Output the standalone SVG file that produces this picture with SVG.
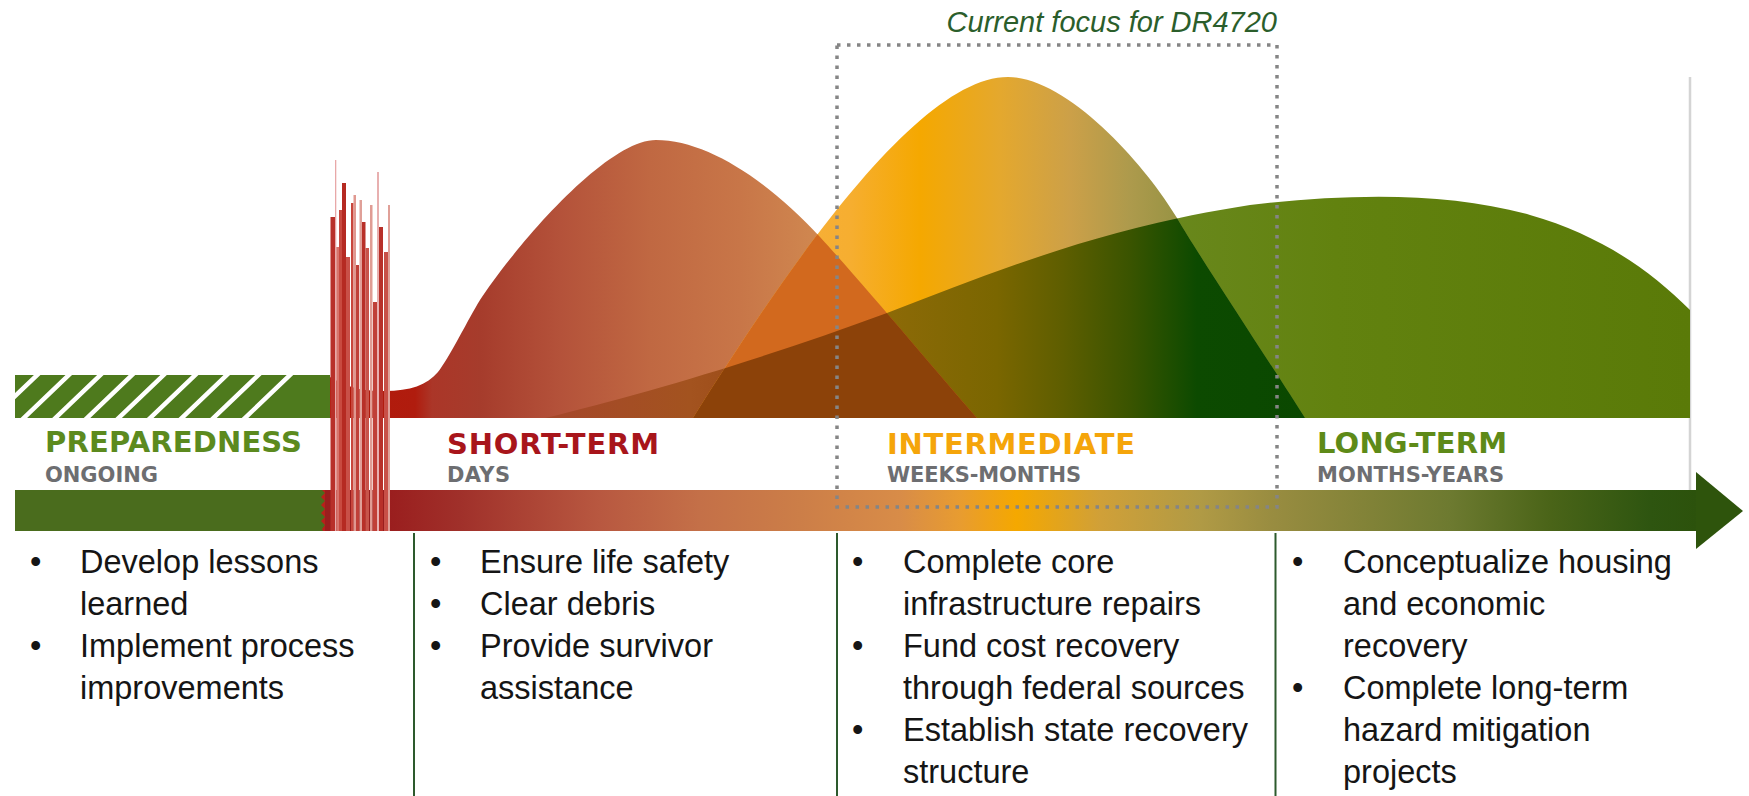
<svg xmlns="http://www.w3.org/2000/svg" width="1749" height="796" viewBox="0 0 1749 796">
<defs>
<style>
.lbl{font-family:"DejaVu Sans",Verdana,sans-serif;font-weight:bold;font-size:29px}
.sub{font-family:"DejaVu Sans",Verdana,sans-serif;font-weight:bold;font-size:21px;fill:#6d6e71}
.bt{font-family:"Liberation Sans",Arial,sans-serif;font-size:32.5px;fill:#151515}
.sep{stroke:#2d5a2d;stroke-width:2}
.hatch{stroke:#ffffff;stroke-width:4.5}
.cap{font-family:"Liberation Sans",Arial,sans-serif;font-style:italic;font-size:29px;fill:#2b5e2b}
</style>
<path id="pR" d="M330,377 C352,390 368,391 385,391 C410,391 427,385 438,372 C448,360 470,316 480,300 C515.7,246 606,140 656,140 C706,140 766.5,179 820,237 C862.8,283.4 940,376 977,418 L330,418 Z"/>
<path id="pO" d="M693,418 C813,226 928,77 1008,77 C1068,77 1147,167 1177,218 C1201,259 1280,378 1305,418 Z"/>
<path id="pG" d="M545,418 C640,395 760,360 887,313 C1000,270 1100,228 1250,205 C1350,193 1450,192 1530,215 C1600,235 1650,270 1690,310 L1690,418 Z"/>
<clipPath id="cR"><use href="#pR"/></clipPath>
<clipPath id="cO"><use href="#pO"/></clipPath>
<clipPath id="cHatch"><rect x="15" y="375" width="315" height="43"/></clipPath>
<linearGradient id="gR" gradientUnits="userSpaceOnUse" x1="330" y1="0" x2="980" y2="0">
<stop offset="0" stop-color="#b2190b"/>
<stop offset="0.131" stop-color="#b01c0e"/>
<stop offset="0.157" stop-color="#ab3628"/>
<stop offset="0.231" stop-color="#a63c2c"/>
<stop offset="0.354" stop-color="#b4523a"/>
<stop offset="0.492" stop-color="#c06842"/>
<stop offset="0.631" stop-color="#c87648"/>
<stop offset="0.754" stop-color="#d08850"/>
<stop offset="1" stop-color="#d68c4c"/>
</linearGradient>
<linearGradient id="gG" gradientUnits="userSpaceOnUse" x1="1100" y1="0" x2="1690" y2="0">
<stop offset="0" stop-color="#6c8a22"/>
<stop offset="0.4" stop-color="#62820f"/>
<stop offset="1" stop-color="#5a7a08"/>
</linearGradient>
<linearGradient id="gRG" gradientUnits="userSpaceOnUse" x1="540" y1="0" x2="980" y2="0">
<stop offset="0.045" stop-color="#a5482a"/>
<stop offset="0.341" stop-color="#a3531f"/>
<stop offset="0.591" stop-color="#964612"/>
<stop offset="1" stop-color="#8a4008"/>
</linearGradient>
<linearGradient id="gO" gradientUnits="userSpaceOnUse" x1="693" y1="0" x2="1305" y2="0">
<stop offset="0" stop-color="#f7b24a"/>
<stop offset="0.257" stop-color="#f6ae30"/>
<stop offset="0.371" stop-color="#f5a800"/>
<stop offset="0.502" stop-color="#e4a82e"/>
<stop offset="0.616" stop-color="#cca048"/>
<stop offset="0.714" stop-color="#ad9a4c"/>
<stop offset="0.828" stop-color="#8e9040"/>
<stop offset="1" stop-color="#7a8a30"/>
</linearGradient>
<linearGradient id="gOG" gradientUnits="userSpaceOnUse" x1="880" y1="0" x2="1305" y2="0">
<stop offset="0" stop-color="#8e6a08"/>
<stop offset="0.275" stop-color="#7a6600"/>
<stop offset="0.43" stop-color="#5e5e00"/>
<stop offset="0.588" stop-color="#3a5400"/>
<stop offset="0.746" stop-color="#0c4a00"/>
<stop offset="1" stop-color="#0a4800"/>
</linearGradient>
<linearGradient id="gBar" gradientUnits="userSpaceOnUse" x1="325" y1="0" x2="1697" y2="0">
<stop offset="0.047" stop-color="#9a1e1e"/>
<stop offset="0.098" stop-color="#a0302a"/>
<stop offset="0.2" stop-color="#b85840"/>
<stop offset="0.273" stop-color="#c47048"/>
<stop offset="0.346" stop-color="#cc7e48"/>
<stop offset="0.419" stop-color="#d88c48"/>
<stop offset="0.463" stop-color="#e89c30"/>
<stop offset="0.504" stop-color="#f5a800"/>
<stop offset="0.565" stop-color="#d0a038"/>
<stop offset="0.638" stop-color="#b09a45"/>
<stop offset="0.692" stop-color="#988c40"/>
<stop offset="0.82" stop-color="#6d7a30"/>
<stop offset="0.893" stop-color="#4a6418"/>
<stop offset="0.966" stop-color="#2e5510"/>
<stop offset="1" stop-color="#2c520c"/>
</linearGradient>
</defs>
<rect x="0" y="0" width="1749" height="796" fill="#ffffff"/>
<line x1="1690" y1="77" x2="1690" y2="490" stroke="#d4d4d4" stroke-width="2.5"/>

<g id="recovery-curves">
<use href="#pG" fill="url(#gG)"/>
<use href="#pR" fill="url(#gR)"/>
<g clip-path="url(#cR)"><use href="#pG" fill="url(#gRG)"/></g>
<use href="#pO" fill="url(#gO)"/>
<g clip-path="url(#cO)">
<use href="#pG" fill="url(#gOG)"/>
<use href="#pR" fill="#d2691e"/>
<g clip-path="url(#cR)"><use href="#pG" fill="#8c4209"/></g>
</g>
</g>

<g id="connectors">
<rect x="320" y="490" width="12" height="41" fill="#b8201a"/>
<rect x="325" y="490" width="1372" height="41" fill="url(#gBar)"/>
<polygon points="1696,472 1743,511 1696,549" fill="#2e540c"/>
<path d="M15,490 L322,490 L325,493 L321,497 L325,501 L321,505 L325,509 L321,513 L325,517 L321,521 L325,525 L322,529 L323,531 L15,531 Z" fill="#4a6c1d"/>
</g>

<g id="phase-preparedness">
<rect x="15" y="375" width="315" height="43" fill="#4e7a1d"/>
<g clip-path="url(#cHatch)">
<path class="hatch" d="M237.7,425 L297.3,368 M206.1,425 L265.7,368 M174.5,425 L234.1,368 M142.9,425 L202.5,368 M111.3,425 L170.9,368 M79.7,425 L139.3,368 M48.1,425 L107.7,368 M16.5,425 L76.1,368 M-15.1,425 L44.5,368"/>
</g>
<text class="lbl" x="45" y="452" fill="#5c8a1e" textLength="257">PREPAREDNESS</text>
<text class="sub" x="45" y="482" textLength="113">ONGOING</text>
<text class="bt" x="30" y="573">•</text>
<text class="bt" x="80" y="573">Develop lessons</text>
<text class="bt" x="80" y="615">learned</text>
<text class="bt" x="30" y="657">•</text>
<text class="bt" x="80" y="657">Implement process</text>
<text class="bt" x="80" y="699">improvements</text>
</g>

<g id="disaster-spikes">
<rect x="330.5" y="217" width="4.5" height="314" fill="#b8302a"/>
<rect x="335" y="160" width="1.3" height="371" fill="#e8a8a8"/>
<rect x="336.3" y="247" width="2.7" height="284" fill="#d8746c"/>
<rect x="339" y="210" width="3" height="321" fill="#c84a40"/>
<rect x="342" y="183" width="4" height="348" fill="#b52a22"/>
<rect x="346" y="257" width="4" height="274" fill="#c85048"/>
<rect x="351" y="203" width="2.5" height="328" fill="#c8463c"/>
<rect x="353.5" y="195" width="2.5" height="336" fill="#e09890"/>
<rect x="356" y="265" width="3" height="266" fill="#c04038"/>
<rect x="359.5" y="200" width="2.5" height="331" fill="#e0a098"/>
<rect x="362" y="222" width="3.5" height="309" fill="#b83028"/>
<rect x="365.5" y="248" width="3.5" height="283" fill="#c8544a"/>
<rect x="370" y="205" width="2.5" height="326" fill="#e09c94"/>
<rect x="373" y="302" width="4" height="229" fill="#c04038"/>
<rect x="377" y="172" width="2" height="359" fill="#e8b0b0"/>
<rect x="379" y="227" width="4" height="304" fill="#b8302a"/>
<rect x="384" y="252" width="4" height="279" fill="#c85048"/>
<rect x="388" y="205" width="2" height="326" fill="#e0a098"/>
</g>

<g id="phase-short-term">
<text class="lbl" x="447" y="454" fill="#a8151b" textLength="212">SHORT-TERM</text>
<text class="sub" x="447" y="482" textLength="63">DAYS</text>
<line class="sep" x1="414" y1="533" x2="414" y2="796"/>
<text class="bt" x="430" y="573">•</text>
<text class="bt" x="480" y="573">Ensure life safety</text>
<text class="bt" x="430" y="615">•</text>
<text class="bt" x="480" y="615">Clear debris</text>
<text class="bt" x="430" y="657">•</text>
<text class="bt" x="480" y="657">Provide survivor</text>
<text class="bt" x="480" y="699">assistance</text>
</g>

<g id="phase-intermediate">
<text class="lbl" x="887" y="454" fill="#f5a50a" textLength="248">INTERMEDIATE</text>
<text class="sub" x="887" y="482" textLength="194">WEEKS-MONTHS</text>
<line class="sep" x1="837" y1="533" x2="837" y2="796"/>
<text class="bt" x="852" y="573">•</text>
<text class="bt" x="903" y="573">Complete core</text>
<text class="bt" x="903" y="615">infrastructure repairs</text>
<text class="bt" x="852" y="657">•</text>
<text class="bt" x="903" y="657">Fund cost recovery</text>
<text class="bt" x="903" y="699">through federal sources</text>
<text class="bt" x="852" y="741">•</text>
<text class="bt" x="903" y="741">Establish state recovery</text>
<text class="bt" x="903" y="783">structure</text>
</g>

<g id="phase-long-term">
<text class="lbl" x="1317" y="453" fill="#5e8a18" textLength="190">LONG-TERM</text>
<text class="sub" x="1317" y="482" textLength="187">MONTHS-YEARS</text>
<line class="sep" x1="1275.5" y1="533" x2="1275.5" y2="796"/>
<text class="bt" x="1292" y="573">•</text>
<text class="bt" x="1343" y="573">Conceptualize housing</text>
<text class="bt" x="1343" y="615">and economic</text>
<text class="bt" x="1343" y="657">recovery</text>
<text class="bt" x="1292" y="699">•</text>
<text class="bt" x="1343" y="699">Complete long-term</text>
<text class="bt" x="1343" y="741">hazard mitigation</text>
<text class="bt" x="1343" y="783">projects</text>
</g>

<g id="focus-box">
<rect x="837" y="45" width="440" height="462" fill="none" stroke="#858585" stroke-width="3.5" stroke-dasharray="3.5 6.5"/>
<text class="cap" x="1277" y="32" text-anchor="end">Current focus for DR4720</text>
</g>
</svg>
